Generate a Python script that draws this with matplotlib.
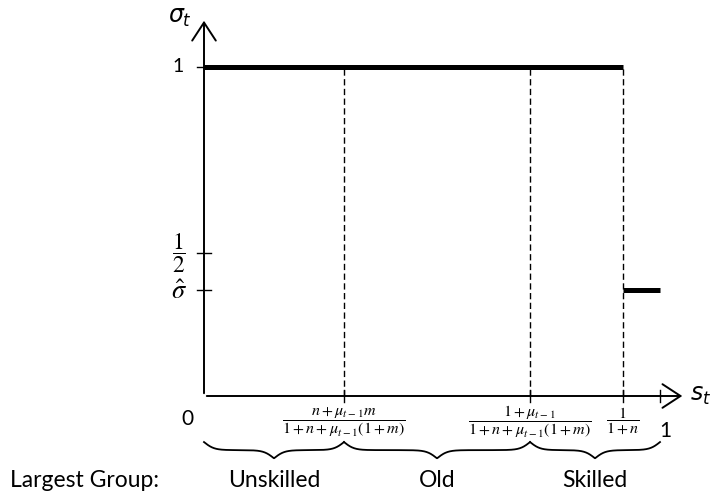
import numpy as np
import matplotlib
matplotlib.use("Agg")
import matplotlib.pyplot as plt

plt.rcParams['font.family'] = ['Lato', 'DejaVu Sans']
plt.rcParams['mathtext.fontset'] = 'stix'

# break points on s_t (schematic positions)
breaks = [0.307, 0.715, 0.919]
break_labels = [r'$\dfrac{n+\mu_{t-1}m}{1+n+\mu_{t-1}(1+m)}$',
                r'$\dfrac{1+\mu_{t-1}}{1+n+\mu_{t-1}(1+m)}$',
                r'$\dfrac{1}{1+n}$']
# sigma_t levels (schematic)
sigma_high = 1.0
sigma_hat = 0.322
half_pos = 0.435
ytick_pos = [sigma_high, half_pos, sigma_hat]
ytick_labels = ['1', r'$\dfrac{1}{2}$', r'$\hat{\sigma}$']
groups = ['Unskilled', 'Old', 'Skilled']
group_edges = [0.0, breaks[0], breaks[1], 1.0]


def brace(ax, x0, x1, ytop, h):
    # curly brace pointing down, drawn from x0 to x1
    n = 200
    xs = np.linspace(x0, x1, 2 * n)
    beta = 90.0
    half = xs[:n]
    yh = (1 / (1 + np.exp(-beta * (half - half[0]))) +
          1 / (1 + np.exp(-beta * (half - half[-1]))))
    yy = np.concatenate([yh, yh[::-1]])
    yy = ytop - (yy - yy.min()) / (yy.max() - yy.min()) * h
    ax.plot(xs, yy, color='black', lw=1.3, clip_on=False)


fig = plt.figure(figsize=(7.16, 4.98), dpi=100)
ax = fig.add_axes([204 / 716, 102 / 498, 456 / 716, 329 / 498])
ax.set_xlim(0, 1)
ax.set_ylim(0, 1)
ax.axis('off')

# axes arrows
arr = dict(arrowstyle='->,head_length=1.3,head_width=0.85', lw=1.4, color='black')
ax.annotate('', xy=(1.055, 0), xytext=(0, 0), arrowprops=arr, annotation_clip=False)
ax.annotate('', xy=(0, 1.149), xytext=(0, 0), arrowprops=arr, annotation_clip=False)
ax.text(1.066, 0.0, r'$s_t$', fontsize=17, va='center', ha='left', clip_on=False,
        math_fontfamily='dejavusans')
ax.text(-0.053, 1.149, r'$\sigma_t$', fontsize=17, va='center', ha='center',
        clip_on=False, math_fontfamily='dejavusans')

# sigma_t function
ax.plot([0, breaks[2]], [sigma_high, sigma_high], color='black', lw=3.6,
        solid_capstyle='butt', clip_on=False)
ax.plot([breaks[2], 1.0], [sigma_hat, sigma_hat], color='black', lw=3.6,
        solid_capstyle='butt', clip_on=False)

# dashed guides
for b in breaks:
    ax.plot([b, b], [0, sigma_high], color='black', lw=1.0, ls=(0, (4.5, 2.5)))

# x ticks
for b in breaks + [1.0]:
    ax.plot([b, b], [-0.018, 0.018], color='black', lw=1.0, clip_on=False)
# y ticks
for p in ytick_pos:
    ax.plot([-0.015, 0.015], [p, p], color='black', lw=1.0, clip_on=False)

# tick labels
ax.text(-0.057, sigma_high, ytick_labels[0], fontsize=14, ha='center', va='center')
ax.text(-0.055, half_pos, ytick_labels[1], fontsize=17, ha='center', va='center')
ax.text(-0.055, sigma_hat - 0.005, ytick_labels[2], fontsize=19, ha='center', va='center')
ax.text(-0.037, -0.070, '0', fontsize=15, ha='center', va='center')
ax.text(1.011, -0.106, '1', fontsize=15, ha='center', va='center')
for b, lab in zip(breaks, break_labels):
    ax.text(b, -0.078, lab, fontsize=11.5, ha='center', va='center')

# braces and group labels
for i, g in enumerate(groups):
    x0, x1 = group_edges[i], group_edges[i + 1]
    brace(ax, x0, x1, -0.14, 0.049)
    ax.text((x0 + x1) / 2, -0.277, g, fontsize=16.5, ha='center', va='baseline')
fig.text(10 / 716, (498 - 487) / 498, 'Largest Group:', fontsize=16.5,
         ha='left', va='baseline')

fig.savefig('out.png', dpi=100)
